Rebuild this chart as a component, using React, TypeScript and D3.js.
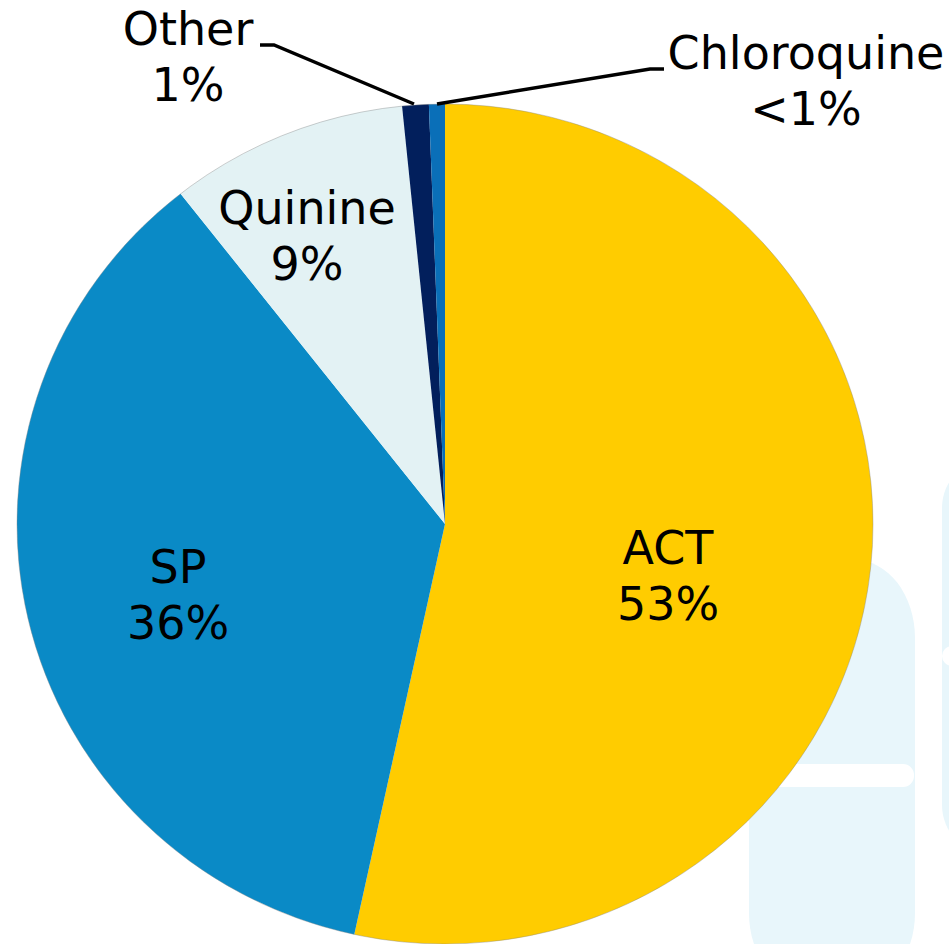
import * as d3 from 'd3';

const labels = ['ACT', 'SP', 'Quinine', 'Other', 'Chloroquine'];
const percents = ['53%', '36%', '9%', '1%', '<1%'];
const values = [53.4, 36.0, 9.0, 1.0, 0.6];
const sliceColors = ['#ffcc00', '#0a8ac6', '#e3f2f4', '#021f5c', '#0a6fb8'];

const width = 949;
const height = 944;
const cx = 445;
const cy = 524;
const radiusX = 428;
const radiusY = 420;
const fontFamily = '"DejaVu Sans", Verdana, sans-serif';

// label centres, first line baseline is at y, second at y + 56
const labelPos = [
  { x: 668, y: 564 },
  { x: 178, y: 583 },
  { x: 307, y: 224 },
  { x: 188, y: 45 },
  { x: 806, y: 69 },
];

const leaders = [
  [[260, 45], [274, 45], [414, 104]],
  [[664, 69], [650, 69], [437, 104]],
];

export default function App() {
  const pie = d3.pie<number>().sort(null).value((d) => d);
  const arc = d3.arc<d3.PieArcDatum<number>>().innerRadius(0).outerRadius(radiusX);
  const arcs = pie(values);
  const line = d3.line();

  return (
    <svg
      width={width}
      height={height}
      viewBox={`0 0 ${width} ${height}`}
      style={{ position: 'absolute', left: 0, top: 0, background: '#fff' }}
    >
      {/* watermark behind the pie */}
      <g fill="#e8f6fb">
        <rect x={749} y={560} width={166} height={431} rx={60} ry={78} />
        <rect x={942} y={458} width={100} height={397} rx={50} />
      </g>
      <rect x={760} y={764} width={154} height={23} rx={11} fill="#fff" />
      <circle cx={952} cy={656} r={10} fill="#fff" />

      {/* the pie is slightly squashed in the original */}
      <g transform={`translate(${cx},${cy}) scale(1,${radiusY / radiusX})`}>
        {arcs.map((d, i) => (
          <path key={labels[i]} d={arc(d) ?? ''} fill={sliceColors[i]} stroke="none" />
        ))}
      </g>
      <ellipse cx={cx} cy={cy} rx={radiusX} ry={radiusY} fill="none" stroke="#888" strokeOpacity={0.5} strokeWidth={0.8} />

      {leaders.map((pts, i) => (
        <path key={i} d={line(pts as [number, number][]) ?? ''} fill="none" stroke="#000" strokeWidth={3.5} />
      ))}

      <g fontFamily={fontFamily} fontSize={46} fill="#000" textAnchor="middle">
        {labels.map((label, i) => (
          <text key={label} x={labelPos[i].x} y={labelPos[i].y}>
            <tspan x={labelPos[i].x}>{label}</tspan>
            <tspan x={labelPos[i].x} dy={56}>{percents[i]}</tspan>
          </text>
        ))}
      </g>
    </svg>
  );
}
